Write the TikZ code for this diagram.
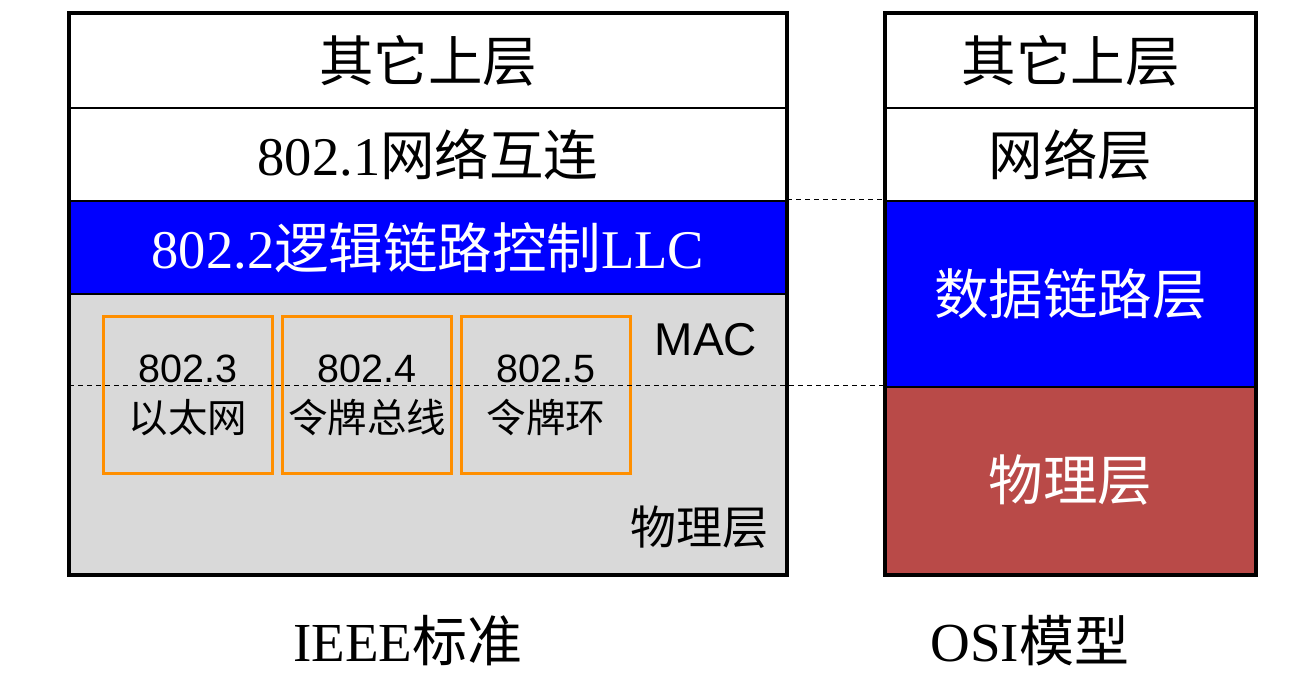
\documentclass[tikz,border=0pt]{standalone}
\usepackage{fontspec}
\setmainfont{Liberation Serif}
\newfontfamily\cjk{Noto Sans CJK SC}
\newfontfamily\arial{Liberation Sans}
\definecolor{llcblue}{RGB}{0,0,255}
\definecolor{phyred}{RGB}{185,74,72}
\definecolor{macgrey}{RGB}{217,217,217}
\definecolor{orangeb}{RGB}{255,143,0}
\newcommand{\fbigsz}{\fontsize{54.5}{60}\selectfont}
\newcommand{\fmidsz}{\fontsize{46}{52}\selectfont}
\newcommand{\fsmlsz}{\fontsize{39.5}{48}\selectfont}
\tikzset{
  layer/.style={draw=black, line width=2pt, anchor=north west, inner sep=0pt, minimum width=#1, font=\fbigsz},
  lefl/.style={layer=716pt},
  rightl/.style={layer=369pt},
  substd/.style={draw=orangeb, line width=3pt, anchor=north west, inner sep=0pt, minimum width=169pt, minimum height=157pt, align=center, font=\fsmlsz\arial},
  dashln/.style={dash pattern=on 5pt off 4pt, line width=1pt},
  border/.style={draw=black, line width=3.5pt},
  caption/.style={font=\fontsize{55}{60}\selectfont}
}
\begin{document}
\begin{tikzpicture}[x=1pt,y=-1pt]
\useasboundingbox (0,0) rectangle (1302,692);
% IEEE stack
\node[lefl, minimum height=94pt, fill=white] (lup) at (69,13) {{\cjk 其它上层}};
\node[lefl, minimum height=93pt, fill=white] (l8021) at (69,107) {802.1{\cjk 网络互连}};
\node[lefl, minimum height=93pt, fill=llcblue, text=white] (llc) at (69,200) {802.2{\cjk 逻辑链路控制}LLC};
\node[lefl, minimum height=280pt, fill=macgrey] (grey) at (69,293) {};
\node[font=\fmidsz\arial] (mac) at (706,340) {MAC};
\node[font=\fmidsz\cjk] (lphy) at (699,527) {物理层};
\node[substd] (s3) at (102,315) {802.3\\[2pt]{\cjk 以太网}};
\node[substd] (s4) at (281,315) {802.4\\[2pt]{\cjk 令牌总线}};
\node[substd] (s5) at (460,315) {802.5\\[2pt]{\cjk 令牌环}};
% OSI stack
\node[rightl, minimum height=94pt, fill=white] (rup) at (885,13) {{\cjk 其它上层}};
\node[rightl, minimum height=93pt, fill=white] (net) at (885,107) {{\cjk 网络层}};
\node[rightl, minimum height=186pt, fill=llcblue, text=white] (dl) at (885,200) {{\cjk 数据链路层}};
\node[rightl, minimum height=187pt, fill=phyred, text=white] (rphy) at (885,386) {{\cjk 物理层}};
% dashed connectors
\coordinate (gl) at (69,386);
\draw[dashln] (llc.north east) -- (dl.north west);
\draw[dashln] (gl) -- (rphy.north west);
% outer borders
\draw[border] (lup.north west) rectangle (grey.south east);
\draw[border] (rup.north west) rectangle (rphy.south east);
% captions
\node[caption] (ieee) at (408,641) {IEEE{\cjk 标准}};
\node[caption] (osi) at (1030,641) {OSI{\cjk 模型}};
\end{tikzpicture}
\end{document}
